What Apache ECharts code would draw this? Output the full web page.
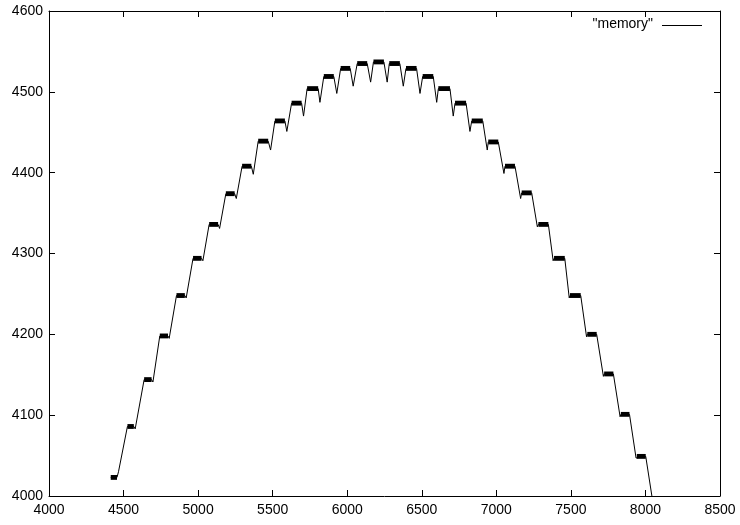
<!DOCTYPE html>
<html>
<head>
<meta charset="utf-8">
<style>
  html, body { margin: 0; padding: 0; background: #fff; }
  #chart { width: 740px; height: 525px; }
</style>
<script src="https://cdn.jsdelivr.net/npm/echarts/dist/echarts.min.js"></script>
</head>
<body>
<div id="chart"></div>
<script>
// plateaus: start x, end x, level
const plateauStart = [4414, 4526, 4638, 4743, 4855, 4966, 5074, 5186, 5295, 5403, 5515, 5627, 5731, 5843, 5956, 6067, 6176,
  6282, 6394, 6506, 6611, 6723, 6835, 6946, 7058, 7170, 7282, 7387, 7494, 7610, 7723, 7835, 7942];
const plateauEnd = [4456, 4569, 4688, 4798, 4911, 5023, 5134, 5245, 5357, 5470, 5582, 5694, 5805, 5910, 6020, 6134, 6246,
  6353, 6465, 6577, 6689, 6797, 6909, 7013, 7125, 7237, 7349, 7459, 7566, 7673, 7785, 7893, 8002];
const plateauLevel = [4023, 4086, 4144, 4198, 4248, 4294, 4336, 4374, 4408, 4439, 4464, 4486, 4504, 4519, 4529, 4535, 4537,
  4535, 4529, 4519, 4504, 4486, 4464, 4438, 4408, 4375, 4336, 4294, 4248, 4200, 4151, 4101, 4049];

// turning point between one plateau and the next
const dipX = [4466, 4578, 4697, 4806, 4920, 5032, 5144, 5256, 5370, 5486, 5595, 5707, 5817, 5930, 6040, 6157,
  6268, 6376, 6488, 6600, 6711, 6823, 6939, 7051, 7163, 7275, 7381, 7489, 7605, 7718, 7830, 7937];
const dipY = [4030, 4083, 4141, 4195, 4245, 4291, 4331, 4368, 4398, 4428, 4451, 4470, 4487, 4498, 4507, 4512,
  4512, 4507, 4498, 4487, 4470, 4451, 4428, 4399, 4368, 4333, 4291, 4245, 4197, 4148, 4098, 4047];

const tailX = [8060];
const tailY = [3980];

const xTicks = [4000, 8500, 500];
const yTicks = [4000, 4600, 100];

const FONT = "'Liberation Sans', Arial, Helvetica, sans-serif";

const memory = [];
plateauStart.forEach((s, k) => {
  memory.push([s, plateauLevel[k]]);
  memory.push([plateauEnd[k], plateauLevel[k]]);
  if (k < dipX.length) memory.push([dipX[k], dipY[k]]);
});
tailX.forEach((x, i) => memory.push([x, tailY[i]]));

const bands = plateauStart.map((s, k) => [s, plateauEnd[k], plateauLevel[k]]);

const chart = echarts.init(document.getElementById('chart'), null, { renderer: 'canvas' });

function xAxisDef(pos, labels) {
  return {
    type: 'value', position: pos, min: xTicks[0], max: xTicks[1], interval: xTicks[2],
    axisLine: { show: true, onZero: false, lineStyle: { color: '#000', width: 1 } },
    axisTick: { show: true, inside: true, length: 6, lineStyle: { color: '#000' } },
    axisLabel: { show: labels, color: '#000', fontSize: 14, fontFamily: FONT, margin: 7, formatter: v => String(v) },
    splitLine: { show: false }
  };
}

function yAxisDef(pos, labels) {
  return {
    type: 'value', position: pos, min: yTicks[0], max: yTicks[1], interval: yTicks[2],
    axisLine: { show: true, onZero: false, lineStyle: { color: '#000', width: 1 } },
    axisTick: { show: true, inside: true, length: 6, lineStyle: { color: '#000' } },
    axisLabel: { show: labels, color: '#000', fontSize: 14, fontFamily: FONT, margin: 6, formatter: v => String(v) },
    splitLine: { show: false }
  };
}

chart.setOption({
  animation: false,
  grid: { left: 49, right: 20, top: 11, bottom: 29, containLabel: false },
  xAxis: [xAxisDef('bottom', true), xAxisDef('top', false)],
  yAxis: [yAxisDef('left', true), yAxisDef('right', false)],
  graphic: [
    { type: 'text', right: 87, top: 17, style: { text: '"memory"', fill: '#000', font: '14px ' + FONT } },
    { type: 'line', shape: { x1: 662, y1: 25.5, x2: 702, y2: 25.5 }, style: { stroke: '#000', lineWidth: 1 } }
  ],
  series: [
    {
      name: '"memory"',
      type: 'line',
      data: memory,
      showSymbol: false,
      symbol: 'none',
      clip: true,
      lineStyle: { color: '#000', width: 1 }
    },
    {
      type: 'custom',
      data: bands,
      renderItem: function (params, api) {
        const a = api.coord([api.value(0), api.value(2) + 3]);
        const b = api.coord([api.value(1), api.value(2) - 3]);
        return { type: 'rect', shape: { x: a[0], y: a[1], width: b[0] - a[0], height: b[1] - a[1] }, style: { fill: '#000' } };
      }
    }
  ]
});
</script>
</body>
</html>
